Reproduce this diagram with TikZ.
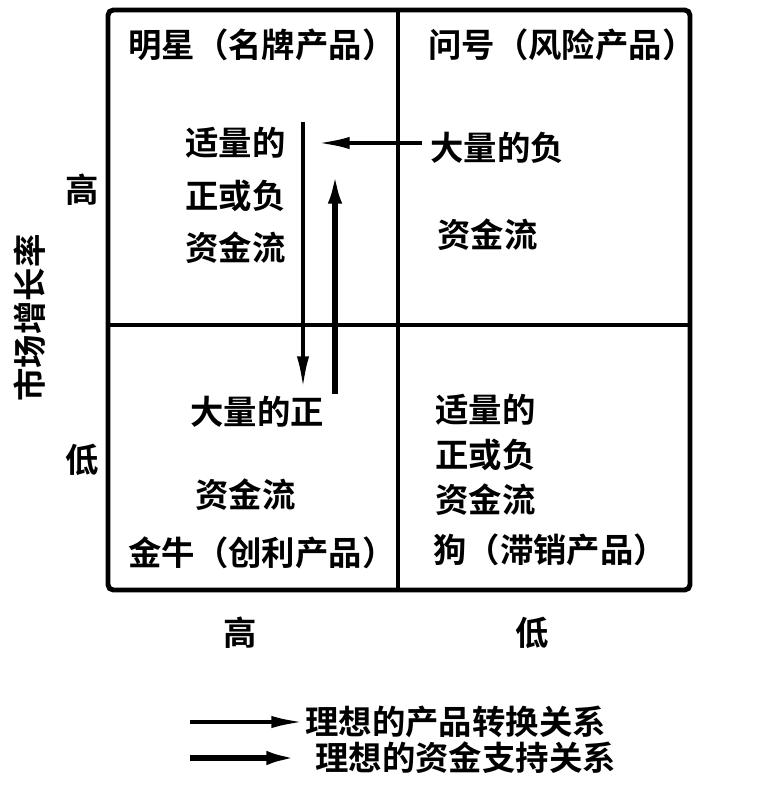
\documentclass[tikz,border=0pt]{standalone}
\usepackage{fontspec}
\newfontfamily\cjk{Noto Sans CJK SC}[BoldFont={Noto Sans CJK SC Bold}]
\usetikzlibrary{arrows.meta}

\tikzset{
  txt/.style={font=\cjk\bfseries\fontsize{19}{22}\selectfont, inner sep=0pt, anchor=west},
  lbl/.style={font=\cjk\bfseries\fontsize{19}{22}\selectfont, inner sep=0pt},
  grid/.style={line width=2.8pt},
  move/.style={line width=2pt, -{Latex[length=18pt,width=7pt]}},
  cash/.style={line width=3.2pt, -{Latex[length=18pt,width=8pt]}}
}

\begin{document}
\begin{tikzpicture}[x=0.02cm, y=-0.02cm]
		\useasboundingbox (0,0) rectangle (764,790);
		% grid
		\coordinate (tl) at (108,10);
		\coordinate (br) at (690,590);
		\coordinate (mt) at (398,10);
		\coordinate (mb) at (398,590);
		\coordinate (ml) at (108,325);
		\coordinate (mr) at (690,325);
		\draw[grid, rounded corners=3pt] (tl) rectangle (br);
		\draw[grid] (mt) -- (mb);
		\draw[grid] (ml) -- (mr);
		% quadrant titles
		\node[txt] (star) at (128,45) {明星（名牌产品）};
		\node[txt] (question) at (428,45) {问号（风险产品）};
		\node[txt] (cow) at (128,553) {金牛（创利产品）};
		\node[txt] (dog) at (433,550) {狗（滞销产品）};
		% cash flows
		\node[txt] (stara) at (185,143) {适量的};
		\node[txt] (starb) at (185,196) {正或负};
		\node[txt] (starc) at (185,248) {资金流};
		\node[txt] (questiona) at (430,148) {大量的负};
		\node[txt] (questionb) at (437,235) {资金流};
		\node[txt] (cowa) at (190,412) {大量的正};
		\node[txt] (cowb) at (195,495) {资金流};
		\node[txt] (doga) at (435,410) {适量的};
		\node[txt] (dogb) at (435,455) {正或负};
		\node[txt] (dogc) at (435,500) {资金流};
		% axes
		\node[lbl] (high) at (82,190) {高};
		\node[lbl] (low) at (82,460) {低};
		\node[lbl] (highx) at (240,633) {高};
		\node[lbl] (lowx) at (532,633) {低};
		\node[lbl, rotate=90] (growth) at (30,318) {市场增长率};
		% arrows
		\coordinate (qfrom) at (422,143);
		\coordinate (qto) at (318,143);
		\coordinate (sfrom) at (303,122);
		\coordinate (sto) at (303,388);
		\coordinate (cfrom) at (335,394);
		\coordinate (cto) at (335,172);
		\draw[move] (qfrom) -- (qto);
		\draw[move] (sfrom) -- (sto);
		\draw[cash] (cfrom) -- (cto);
		% legend
		\coordinate (movea) at (190,722);
		\coordinate (moveb) at (303,722);
		\coordinate (casha) at (190,758);
		\coordinate (cashb) at (298,758);
		\draw[move] (movea) -- (moveb);
		\draw[cash] (casha) -- (cashb);
		\node[txt] (movetxt) at (305,722) {理想的产品转换关系};
		\node[txt] (cashtxt) at (315,758) {理想的资金支持关系};
\end{tikzpicture}
\end{document}
